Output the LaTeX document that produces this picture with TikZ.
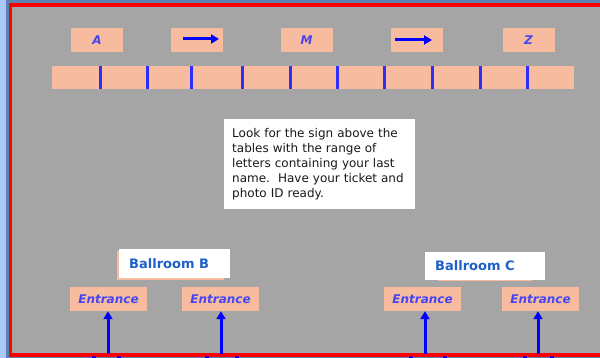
\documentclass[tikz,border=0pt]{standalone}
\usepackage{fontspec}
\setmainfont{DejaVu Sans}
\usetikzlibrary{arrows.meta}
\definecolor{bggrey}{RGB}{165,165,165}
\definecolor{salmon}{RGB}{247,187,160}
\definecolor{bordred}{RGB}{255,0,0}
\definecolor{divblue}{RGB}{45,45,255}
\definecolor{letblue}{RGB}{70,70,240}
\definecolor{ballblue}{RGB}{30,95,200}
\definecolor{arrblue}{RGB}{0,0,255}
\definecolor{lightside}{RGB}{170,200,245}
\definecolor{darkside}{RGB}{95,130,180}
\tikzset{
  labelbox/.style={fill=salmon, minimum width=52pt, minimum height=24pt, inner sep=0pt,
    text=letblue, font=\fontsize{12}{14}\selectfont\bfseries\itshape},
  entbox/.style={fill=salmon, minimum width=77pt, minimum height=24pt, inner sep=0pt,
    text=letblue, font=\fontsize{12}{14}\selectfont\bfseries\itshape},
  ballbox/.style={fill=white, inner sep=0pt, text=ballblue,
    font=\fontsize{13}{15}\selectfont\bfseries},
  divider/.style={divblue, line width=3pt},
  bigarrow/.style={arrblue, line width=3pt, -{Triangle[width=9pt,length=8pt]}},
  smallarrow/.style={arrblue, line width=3pt, -{Triangle[width=9pt,length=8pt]}},
  infobox/.style={fill=white, text width=175pt, align=left, inner xsep=8pt, inner ysep=0pt,
    minimum height=90pt, font=\fontsize{12}{15}\selectfont, text=black!90}
}
\begin{document}
\begin{tikzpicture}[x=1pt,y=-1pt]
\useasboundingbox (0,0) rectangle (600,358);
% frame
\fill[lightside] (0,0) rectangle (600,358);
\fill[darkside] (6,0) rectangle (600,358);
\fill[bordred] (9,3) rectangle (600,357);
\fill[bggrey] (12,7) rectangle (600,353);
% top labels
\node[labelbox] (la) at (97,40) {A};
\node[labelbox] (ar1) at (197,40) {};
\node[labelbox] (lm) at (306.5,40) {M};
\node[labelbox] (ar2) at (416.5,40) {};
\node[labelbox] (lz) at (528.5,40) {Z};
\coordinate (ar1s) at (183,39);
\coordinate (ar1e) at (219,39);
\coordinate (ar2s) at (395,40);
\coordinate (ar2e) at (432,40);
\draw[smallarrow] (ar1s) -- (ar1e);
\draw[smallarrow] (ar2s) -- (ar2e);
% long bar
\node[fill=salmon, minimum width=522pt, minimum height=23pt, inner sep=0pt] (bar) at (313,77.5) {};
\foreach \xx in {100,147,191,242,290,337,384,432,480,527}
  \draw[divider] (\xx,66) -- (\xx,89);
% info box
\node[infobox, anchor=north west] (info) at (224,119)
  {Look for the sign above the\\tables with the range of\\letters containing your last\\name.\ \ Have your ticket and\\photo ID ready.};
% ballrooms
\fill[salmon] (117,251) rectangle (224,280);
\node[ballbox, minimum width=111pt, minimum height=29pt, anchor=north west] (bb) at (119,249) {};
\node[ballbox, anchor=west] (bbt) at (129,264) {Ballroom B};
\fill[salmon] (438,254) rectangle (532,281);
\node[ballbox, minimum width=120pt, minimum height=28pt, anchor=north west] (bc) at (425,252) {};
\node[ballbox, anchor=west] (bct) at (435,266) {Ballroom C};
% entrances
\node[entbox] (e1) at (108.5,299) {Entrance};
\node[entbox] (e2) at (220.5,299) {Entrance};
\node[entbox] (e3) at (422.5,299) {Entrance};
\node[entbox] (e4) at (540.5,299) {Entrance};
\foreach \n/\xx in {1/108,2/221,3/425,4/538}{
  \coordinate (b\n) at (\xx,354);
}
\draw[bigarrow] (b1) -- (b1 |- e1.south);
\draw[bigarrow] (b2) -- (b2 |- e2.south);
\draw[bigarrow] (b3) -- (b3 |- e3.south);
\draw[bigarrow] (b4) -- (b4 |- e4.south);
% small blue dots at the bottom edge
\foreach \xx in {94,119,207,237,411,445,525,552}
  \fill[arrblue] (\xx,358) circle (2.2pt);
\end{tikzpicture}
\end{document}
